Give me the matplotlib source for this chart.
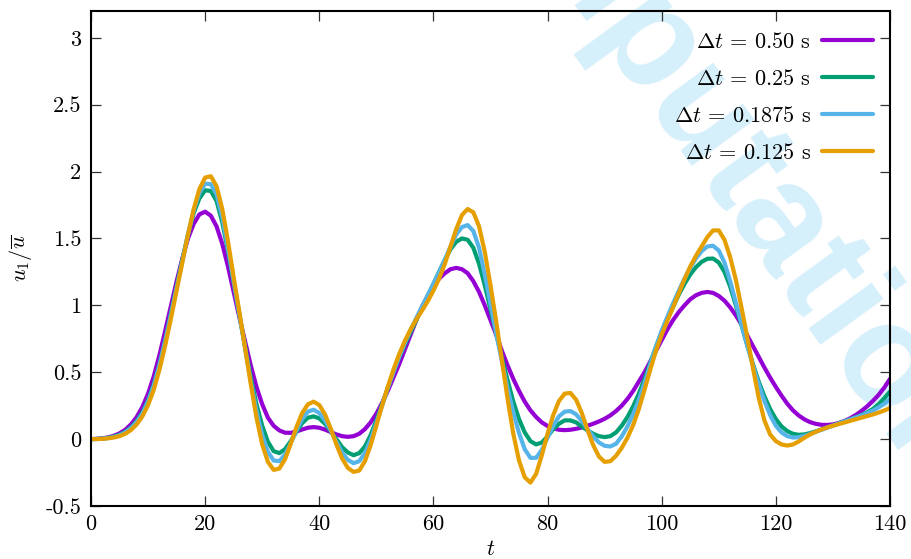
import numpy as np
import matplotlib
matplotlib.use("Agg")
import matplotlib.pyplot as plt

plt.rcParams['font.family'] = 'serif'
plt.rcParams['font.serif'] = ['cmr10']
plt.rcParams['mathtext.fontset'] = 'cm'
plt.rcParams['axes.unicode_minus'] = False

# ---------------- data ----------------
t = np.arange(0, 141, 1)

u_dt050 = [0.0, 0.002, 0.006, 0.013, 0.025, 0.043, 0.07, 0.11, 0.165, 0.24,
           0.34, 0.47, 0.63, 0.81, 0.995, 1.18, 1.35, 1.50, 1.61, 1.68,
           1.70, 1.67, 1.59, 1.46, 1.29, 1.10, 0.91, 0.73, 0.55, 0.39,
           0.26, 0.16, 0.10, 0.065, 0.048, 0.047, 0.057, 0.072, 0.085, 0.09,
           0.085, 0.071, 0.053, 0.035, 0.022, 0.017, 0.022, 0.04, 0.075, 0.125,
           0.19, 0.27, 0.36, 0.46, 0.56, 0.67, 0.78, 0.89, 0.99, 1.07,
           1.14, 1.20, 1.24, 1.27, 1.28, 1.27, 1.24, 1.18, 1.10, 1.00,
           0.89, 0.78, 0.66, 0.55, 0.45, 0.36, 0.28, 0.215, 0.165, 0.125,
           0.098, 0.08, 0.07, 0.067, 0.07, 0.077, 0.087, 0.10, 0.115, 0.132,
           0.152, 0.177, 0.21, 0.25, 0.30, 0.36, 0.43, 0.50, 0.58, 0.66,
           0.74, 0.82, 0.89, 0.95, 1.00, 1.045, 1.075, 1.093, 1.10, 1.093,
           1.07, 1.035, 0.985, 0.925, 0.855, 0.775, 0.695, 0.615, 0.535, 0.46,
           0.39, 0.325, 0.265, 0.215, 0.177, 0.148, 0.127, 0.114, 0.107, 0.106,
           0.11, 0.12, 0.135, 0.155, 0.18, 0.21, 0.245, 0.285, 0.33, 0.385,
           0.45]

u_dt025 = [0.0, 0.001, 0.004, 0.01, 0.019, 0.033, 0.055, 0.088, 0.135, 0.20,
           0.29, 0.41, 0.56, 0.74, 0.94, 1.14, 1.34, 1.53, 1.69, 1.80,
           1.86, 1.855, 1.78, 1.62, 1.41, 1.17, 0.93, 0.69, 0.46, 0.26,
           0.10, -0.02, -0.09, -0.105, -0.075, -0.015, 0.055, 0.12, 0.16, 0.17,
           0.155, 0.115, 0.06, 0.0, -0.06, -0.10, -0.12, -0.105, -0.055, 0.03,
           0.14, 0.26, 0.38, 0.50, 0.61, 0.71, 0.80, 0.89, 0.98, 1.07,
           1.16, 1.25, 1.34, 1.42, 1.475, 1.50, 1.49, 1.43, 1.31, 1.15,
           0.97, 0.79, 0.61, 0.44, 0.28, 0.15, 0.05, -0.015, -0.04, -0.025,
           0.02, 0.075, 0.115, 0.14, 0.14, 0.125, 0.095, 0.065, 0.04, 0.022,
           0.015, 0.022, 0.05, 0.10, 0.165, 0.245, 0.34, 0.45, 0.57, 0.69,
           0.80, 0.90, 0.99, 1.08, 1.16, 1.23, 1.285, 1.325, 1.348, 1.35,
           1.32, 1.25, 1.14, 1.00, 0.85, 0.70, 0.56, 0.43, 0.32, 0.225,
           0.15, 0.095, 0.06, 0.04, 0.032, 0.035, 0.045, 0.058, 0.072, 0.087,
           0.102, 0.117, 0.132, 0.147, 0.163, 0.18, 0.20, 0.225, 0.26, 0.305,
           0.355]

u_dt01875 = [0.0, 0.001, 0.003, 0.008, 0.016, 0.029, 0.05, 0.082, 0.128, 0.19,
             0.28, 0.40, 0.555, 0.735, 0.93, 1.13, 1.33, 1.53, 1.71, 1.84,
             1.91, 1.905, 1.83, 1.66, 1.43, 1.18, 0.93, 0.68, 0.43, 0.21,
             0.03, -0.095, -0.16, -0.165, -0.115, -0.03, 0.065, 0.15, 0.205, 0.22,
             0.195, 0.14, 0.065, -0.02, -0.10, -0.155, -0.18, -0.165, -0.105, -0.005,
             0.12, 0.25, 0.38, 0.50, 0.615, 0.72, 0.815, 0.905, 0.99, 1.075,
             1.16, 1.25, 1.34, 1.44, 1.53, 1.585, 1.60, 1.555, 1.43, 1.23,
             1.01, 0.79, 0.58, 0.38, 0.20, 0.045, -0.075, -0.14, -0.14, -0.08,
             0.01, 0.10, 0.17, 0.205, 0.21, 0.185, 0.135, 0.075, 0.02, -0.025,
             -0.05, -0.055, -0.035, 0.02, 0.095, 0.185, 0.295, 0.42, 0.56, 0.69,
             0.81, 0.915, 1.015, 1.11, 1.20, 1.28, 1.35, 1.405, 1.44, 1.445,
             1.41, 1.32, 1.18, 1.02, 0.86, 0.70, 0.55, 0.41, 0.285, 0.18,
             0.10, 0.05, 0.022, 0.012, 0.014, 0.024, 0.038, 0.054, 0.07, 0.086,
             0.102, 0.117, 0.132, 0.147, 0.162, 0.177, 0.194, 0.213, 0.237, 0.265,
             0.298]

u_dt0125 = [0.0, 0.0005, 0.002, 0.006, 0.012, 0.022, 0.04, 0.068, 0.11, 0.17,
            0.255, 0.37, 0.52, 0.70, 0.90, 1.11, 1.32, 1.53, 1.72, 1.87,
            1.955, 1.965, 1.89, 1.72, 1.48, 1.21, 0.95, 0.68, 0.41, 0.16,
            -0.04, -0.17, -0.23, -0.22, -0.15, -0.035, 0.09, 0.195, 0.26, 0.28,
            0.255, 0.185, 0.08, -0.04, -0.145, -0.215, -0.245, -0.235, -0.165, -0.045,
            0.10, 0.25, 0.39, 0.52, 0.635, 0.735, 0.82, 0.895, 0.96, 1.03,
            1.11, 1.20, 1.31, 1.44, 1.57, 1.675, 1.72, 1.695, 1.59, 1.40,
            1.15, 0.88, 0.59, 0.30, 0.04, -0.16, -0.285, -0.325, -0.26, -0.12,
            0.04, 0.18, 0.285, 0.34, 0.345, 0.295, 0.195, 0.07, -0.045, -0.13,
            -0.17, -0.165, -0.125, -0.065, 0.01, 0.105, 0.225, 0.37, 0.52, 0.66,
            0.78, 0.885, 0.985, 1.09, 1.195, 1.29, 1.37, 1.44, 1.51, 1.56,
            1.56, 1.49, 1.36, 1.19, 0.98, 0.76, 0.53, 0.31, 0.14, 0.035,
            -0.015, -0.04, -0.048, -0.04, -0.018, 0.01, 0.035, 0.055, 0.072, 0.087,
            0.10, 0.112, 0.124, 0.136, 0.148, 0.16, 0.172, 0.184, 0.198, 0.214,
            0.232]

labels = [r'$\Delta t \,=\, 0.50$ s', r'$\Delta t \,=\, 0.25$ s',
          r'$\Delta t \,=\, 0.1875$ s', r'$\Delta t \,=\, 0.125$ s']
colors = ['#9400D3', '#009E73', '#56B4E9', '#E69F00']
series = [u_dt050, u_dt025, u_dt01875, u_dt0125]

xticks = [0, 20, 40, 60, 80, 100, 120, 140]
yticks = [-0.5, 0, 0.5, 1, 1.5, 2, 2.5, 3]
yticklabels = ['-0.5', '0', '0.5', '1', '1.5', '2', '2.5', '3']

# ---------------- figure ----------------
fig = plt.figure(figsize=(9.11, 5.59), dpi=100)
ax = fig.add_axes([0.0999, 0.0948, 0.877, 0.8855])
ax.set_facecolor('none')

# watermark
fig.text(0.801, 0.708, 'Computational', rotation=-54, rotation_mode='anchor',
         ha='center', va='center', fontsize=106, fontweight='bold',
         family='Liberation Sans', color='#d5effb', zorder=-5)

for y, c, lab in zip(series, colors, labels):
    ax.plot(t, y, color=c, lw=3.0, label=lab, solid_joinstyle='round',
            solid_capstyle='round')

ax.set_xlim(0, 140)
ax.set_ylim(-0.5, 3.2)
ax.set_xticks(xticks)
ax.set_xticklabels([str(v) for v in xticks])
ax.set_yticks(yticks)
ax.set_yticklabels(yticklabels)
ax.tick_params(direction='in', top=True, right=True, length=7, width=0.9,
               labelsize=16, color='#333333')
ax.tick_params(axis='x', pad=6)
ax.tick_params(axis='y', pad=7)
for s in ax.spines.values():
    s.set_linewidth(1.5)

ax.set_xlabel(r'$t$', fontsize=16, labelpad=4)
ax.set_ylabel(r'$u_1/\overline{u}$', fontsize=16, labelpad=8)

leg = ax.legend(loc='upper right', bbox_to_anchor=(0.9985, 0.99), frameon=False,
                markerfirst=False, fontsize=16, handlelength=2.3,
                handletextpad=0.5, labelspacing=0.77, borderaxespad=0.3)

fig.savefig('out.png', dpi=100)
